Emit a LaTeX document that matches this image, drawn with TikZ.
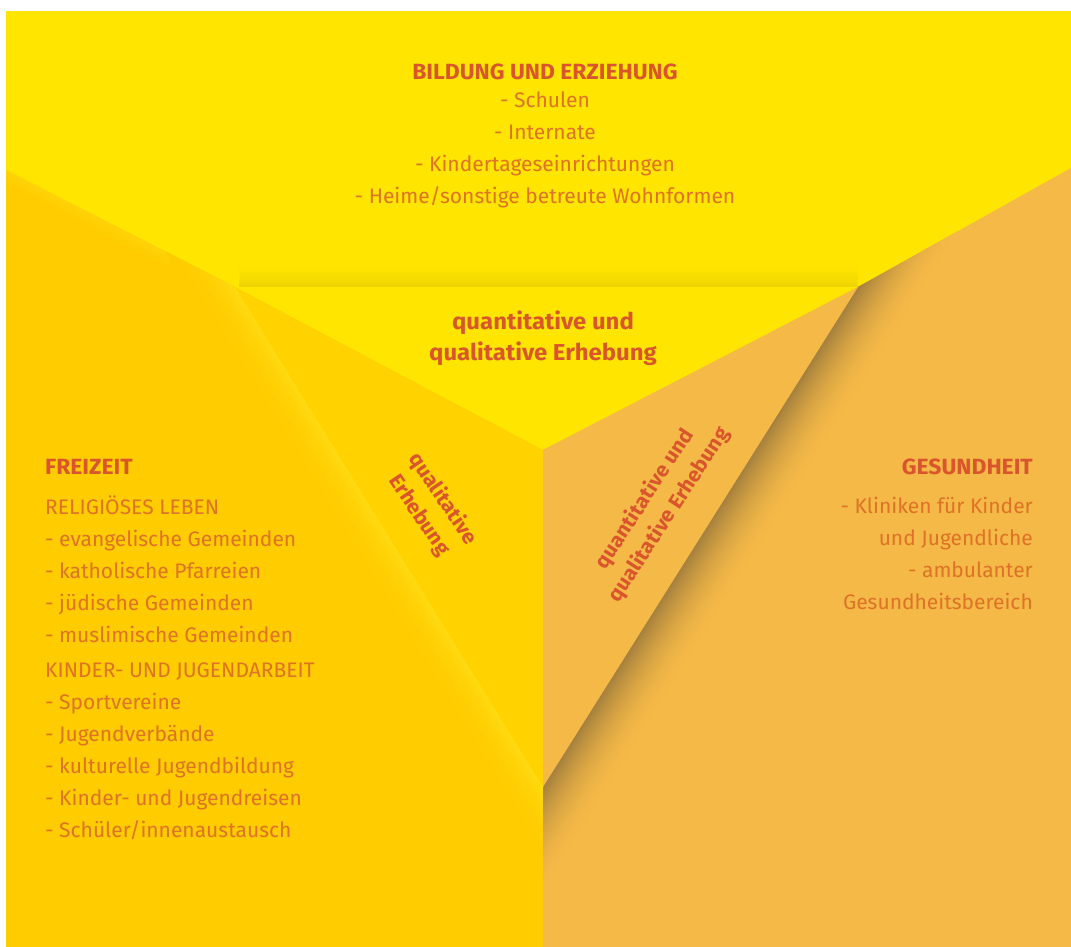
\documentclass[tikz,border=0pt]{standalone}
\usepackage{fontspec}
\setmainfont{Fira Sans}
\newfontfamily\hdfont{Fira Sans}[FakeStretch=1.04]
\usetikzlibrary{calc}
\definecolor{topY}{HTML}{FFE500}
\definecolor{leftY}{HTML}{FFCC00}
\definecolor{lflapY}{HTML}{FFD200}
\definecolor{orng}{HTML}{F5B947}
\definecolor{shad}{HTML}{8E703A}
\definecolor{shtop}{HTML}{D8C000}
\definecolor{hlY}{HTML}{FFE21A}
\definecolor{headc}{HTML}{D9552C}
\definecolor{txtc}{HTML}{DE7226}
\tikzset{
  hd/.style={font=\hdfont\bfseries\fontsize{22}{31}\selectfont, text=headc, inner sep=0pt},
  tx/.style={font=\fontsize{21}{32}\selectfont, text=txtc, inner sep=0pt},
  flaptx/.style={font=\hdfont\bfseries\fontsize{23}{31}\selectfont, text=headc, inner sep=0pt, align=center},
  flaptxs/.style={font=\hdfont\bfseries\fontsize{20.5}{29}\selectfont, text=headc, inner sep=0pt, align=center},
}
\begin{document}
\begin{tikzpicture}[x=1pt,y=-1pt]
\useasboundingbox (0,0) rectangle (1071,947);
\fill[white] (0,0) rectangle (1071,947);
\coordinate (TL) at (6,11);
\coordinate (TR) at (1071,11);
\coordinate (LE) at (6,170);
\coordinate (RE) at (1071,168);
\coordinate (BL) at (6,947);
\coordinate (BR) at (1071,947);
\coordinate (A) at (235,287);
\coordinate (B) at (858,287);
\coordinate (O) at (543,450);
\coordinate (C) at (543,787);
\coordinate (MB) at (543,947);
% regions
\fill[topY] (TL) rectangle (BR);
\fill[leftY] (LE) -- (A) -- (O) -- (MB) -- (BL) -- cycle;
\fill[orng] (RE) -- (B) -- (O) -- (MB) -- (BR) -- cycle;
\begin{scope}
\clip (LE) -- (A) -- (O) -- (MB) -- (BL) -- cycle;
% soft highlight along top-left diagonal
\foreach \i in {0,...,30}{
  \pgfmathtruncatemacro\p{40*(1-\i/30)^2}
  \draw[line width=1.5pt, hlY!\p!leftY] ($(LE)+(\i*0.46,\i*0.89)+(-20,-10)$) -- ($(A)+(\i*0.46,\i*0.89)+(60,31)$);
}
% soft highlight along left flap edge
\foreach \i in {0,...,40}{
  \pgfmathtruncatemacro\p{70*(1-\i/40)^2}
  \draw[line width=1.5pt, hlY!\p!leftY] ($(A)+(-\i*0.852,\i*0.525)+(-52.5,-85.2)$) -- ($(C)+(-\i*0.852,\i*0.525)+(105,170.4)$);
}
\end{scope}
% shadow right of right flap edge
\begin{scope}
\clip (RE) -- (B) -- (O) -- (MB) -- (BR) -- cycle;
\foreach \i in {0,...,60}{
  \pgfmathtruncatemacro\p{80*(1-\i/60)^2}
  \draw[line width=1.5pt, shad!\p!orng] ($(B)+(\i*0.846,\i*0.533)+(53.3,-84.6)$) -- ($(C)+(\i*0.846,\i*0.533)+(-106.6,169.2)$);
}
\end{scope}
% shadow above top flap edge
\begin{scope}
\clip (LE) -- (A) -- (B) -- (RE) -- (TR) -- (TL) -- cycle;
\foreach \i in {0,...,30}{
  \pgfmathtruncatemacro\p{50*(1-\i/30)^2}
  \draw[line width=1.5pt, shtop!\p!topY] ($(A)+(4,-\i)$) -- ($(B)+(0,-\i)$);
}
\end{scope}
% flaps
\fill[topY] (A) -- (B) -- (O) -- cycle;
\fill[lflapY] (A) -- (O) -- (C) -- cycle;
\fill[orng] (B) -- (O) -- (C) -- cycle;
% texts
\node[hd] (bild) at (545,72) {BILDUNG UND ERZIEHUNG};
\node[tx, align=center] (bildl) at (545,150) {- Schulen\\- Internate\\- Kindertageseinrichtungen\\- Heime/sonstige betreute Wohnformen};
\node[flaptx] (qtop) at (543,338) {quantitative und\\qualitative Erhebung};
\node[flaptxs, rotate=-56] (qleft) at (431,507) {qualitative\\Erhebung};
\node[flaptxs, rotate=57] (qright) at (657,507) {quantitative und\\qualitative Erhebung};
\node[hd, anchor=west] (frei) at (45,467) {FREIZEIT};
\node[tx, align=left, anchor=west] (rel) at (45,569) {RELIGIÖSES LEBEN\\- evangelische Gemeinden\\- katholische Pfarreien\\- jüdische Gemeinden\\- muslimische Gemeinden};
\node[tx, align=left, anchor=west] (kj) at (45,751) {KINDER- UND JUGENDARBEIT\\- Sportvereine\\- Jugendverbände\\- kulturelle Jugendbildung\\- Kinder- und Jugendreisen\\- Schüler/innenaustausch};
\node[hd, anchor=east] (ges) at (1033,467) {GESUNDHEIT};
\node[tx, align=right, anchor=east] (gesl) at (1033,553) {- Kliniken für Kinder\\und Jugendliche\\- ambulanter\\Gesundheitsbereich};
\end{tikzpicture}
\end{document}
